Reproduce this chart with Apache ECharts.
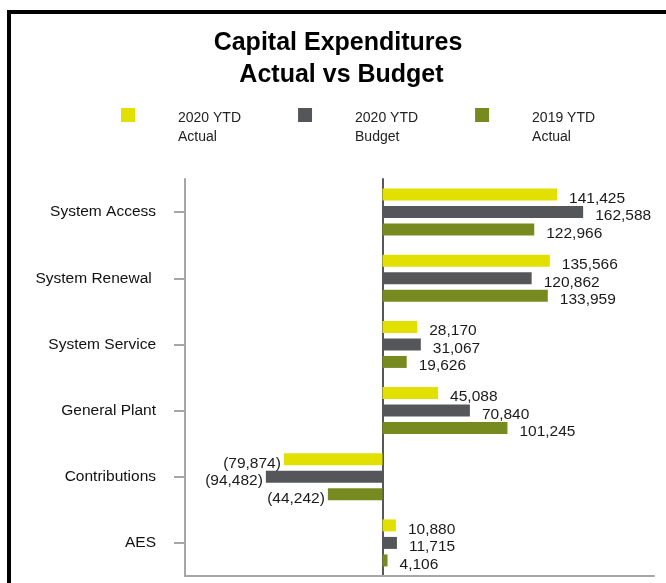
<!DOCTYPE html>
<html>
<head>
<meta charset="utf-8">
<script src="https://cdn.jsdelivr.net/npm/echarts@6/dist/echarts.min.js"></script>
<style>
html,body{margin:0;padding:0;background:#fff;}
#chart{width:666px;height:583px;}
</style>
</head>
<body>
<div id="chart"></div>
<script>
const categories = ['System Access', 'System Renewal ', 'System Service', 'General Plant', 'Contributions', 'AES'];
const seriesNames = ['2020 YTD\nActual', '2020 YTD\nBudget', '2019 YTD\nActual'];
const actual2020 = [141425, 135566, 28170, 45088, -79874, 10880];
const budget2020 = [162588, 120862, 31067, 70840, -94482, 11715];
const actual2019 = [122966, 133959, 19626, 101245, -44242, 4106];
const colors = ['#E1E000', '#54565A', '#778A1F'];

function fmt(v) {
  const s = Math.abs(v).toLocaleString('en-US');
  return v < 0 ? '(' + s + ')' : s;
}
function buildData(arr) {
  return arr.map(v => ({
    value: v,
    label: { position: v < 0 ? 'left' : 'right', distance: v < 0 ? 3 : 12 }
  }));
}
const allData = [actual2020, budget2020, actual2019];

const chart = echarts.init(document.getElementById('chart'), null, { renderer: 'canvas' });
const labelFont = 'Liberation Sans, Arial, sans-serif';

const option = {
  animation: false,
  backgroundColor: '#fff',
  title: {
    text: 'Capital Expenditures\n Actual vs Budget',
    left: 338,
    textAlign: 'center',
    top: 27,
    padding: 0,
    textStyle: { fontFamily: labelFont, fontSize: 25, fontWeight: 'bold', color: '#000', lineHeight: 32 }
  },
  legend: {
    left: 121,
    top: 83,
    padding: 0,
    itemWidth: 14,
    itemHeight: 14,
    itemGap: 57,
    icon: 'rect',
    selectedMode: false,
    formatter: name => '{sp| }\n' + name.split('\n').map(l => '{t|' + l + '}').join('\n'),
    textStyle: {
      fontFamily: labelFont, fontSize: 14, color: '#222', padding: [0, 0, 0, 38],
      rich: {
        sp: { height: 26, lineHeight: 26, fontSize: 14 },
        t: { fontFamily: labelFont, fontSize: 14, color: '#222', lineHeight: 19, height: 19 }
      }
    },
    data: seriesNames
  },
  grid: { left: 185, right: 12, top: 179, bottom: 7, containLabel: false },
  xAxis: {
    type: 'value',
    min: -160000,
    max: 220000,
    axisLine: { show: true, onZero: false, lineStyle: { color: '#A6A6A6', width: 2 } },
    axisTick: { show: false },
    axisLabel: { show: false },
    splitLine: { show: false }
  },
  yAxis: [
    {
      type: 'category',
      data: categories,
      inverse: true,
      position: 'left',
      axisLine: { show: true, onZero: false, lineStyle: { color: '#A6A6A6', width: 2 } },
      axisTick: { show: true, alignWithLabel: true, length: 11, lineStyle: { color: '#A6A6A6', width: 2 } },
      axisLabel: { margin: 29, fontFamily: labelFont, fontSize: 15.5, color: '#111' }
    },
    {
      type: 'category',
      data: categories,
      inverse: true,
      axisLine: { show: true, onZero: true, lineStyle: { color: '#55575A', width: 2 } },
      axisTick: { show: false },
      axisLabel: { show: false }
    }
  ],
  series: allData.map((arr, i) => ({
    name: seriesNames[i],
    type: 'bar',
    yAxisIndex: 0,
    barWidth: 12,
    barGap: '46%',
    itemStyle: { color: colors[i] },
    label: {
      show: true,
      offset: [0, 4],
      fontFamily: labelFont,
      fontSize: 15.5,
      color: '#1a1a1a',
      formatter: p => fmt(p.value)
    },
    data: buildData(arr)
  })),
  graphic: [
    { type: 'rect', left: 7, top: 10, shape: { width: 4, height: 573 }, style: { fill: '#000' } },
    { type: 'rect', left: 7, top: 10, shape: { width: 659, height: 4 }, style: { fill: '#000' } }
  ]
};
chart.setOption(option);
</script>
</body>
</html>
